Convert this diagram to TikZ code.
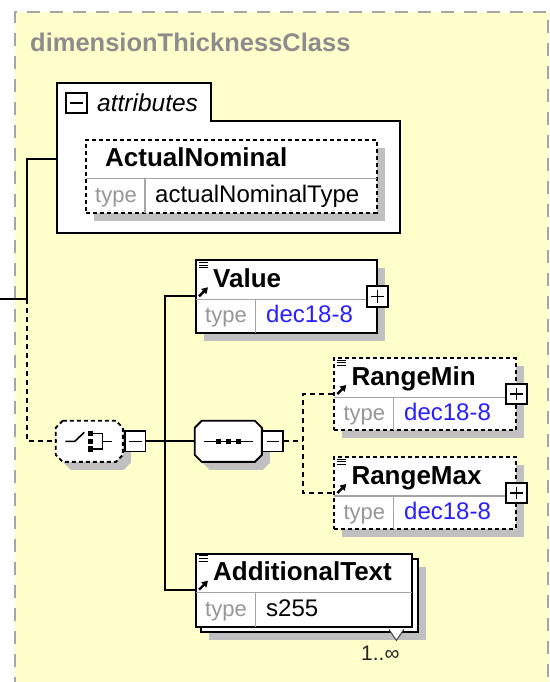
\documentclass[tikz,border=0pt]{standalone}
\usepackage{fontspec}
\setmainfont{Liberation Sans}
\usetikzlibrary{calc,shadows,arrows.meta}
\definecolor{bgyellow}{RGB}{255,255,204}
\definecolor{bordergray}{RGB}{165,165,165}
\definecolor{titlegray}{RGB}{140,140,140}
\definecolor{shadowgray}{RGB}{192,192,192}
\definecolor{divgray}{RGB}{165,165,165}
\definecolor{typegray}{RGB}{150,150,150}
\definecolor{valblue}{RGB}{40,30,255}
% octagon outline around a named rectangle node, shifted by #2 (down-right)
\newcommand\octpath[2]{($(#1.north west)+(7+#2,#2)$) -- ($(#1.north east)+(-7+#2,#2)$) -- ($(#1.north east)+(#2,7+#2)$) -- ($(#1.south east)+(#2,-7+#2)$) -- ($(#1.south east)+(-7+#2,#2)$) -- ($(#1.south west)+(7+#2,#2)$) -- ($(#1.south west)+(#2,-7+#2)$) -- ($(#1.north west)+(#2,7+#2)$) -- cycle}
\begin{document}
\begin{tikzpicture}[x=1pt,y=-1pt,
  clsborder/.style={draw=bordergray, line width=2pt, dash pattern=on 13pt off 10pt},
  grpline/.style={draw=black, line width=2pt, fill=white},
  elbox/.style={rectangle, draw=black, fill=white, line width=1.9pt, inner sep=0pt, anchor=north west},
  optbox/.style={elbox, dash pattern=on 4pt off 3pt},
  shade/.style={drop shadow={shadow xshift=8pt, shadow yshift=-8pt, fill=shadowgray, opacity=1}},
  divline/.style={draw=divgray, line width=1.3pt},
  iconline/.style={draw=black, line width=1pt},
  iconarrow/.style={draw=black, line width=2.4pt, -{Triangle[length=6pt,width=7pt]}},
  nametext/.style={font=\fontsize{26}{30}\selectfont\bfseries, anchor=base west, inner sep=0pt},
  typetext/.style={font=\fontsize{22}{26}\selectfont, text=typegray, anchor=base west, inner sep=0pt},
  valtext/.style={font=\fontsize{24}{28}\selectfont, anchor=base west, inner sep=0pt},
  titletext/.style={font=\fontsize{25.5}{30}\selectfont\bfseries, text=titlegray, anchor=base west, inner sep=0pt},
  conn/.style={draw=black, line width=2pt},
  optconn/.style={conn, dash pattern=on 5pt off 4pt},
  pmbox/.style={rectangle, draw=black, fill=white, line width=1.8pt, minimum size=20.5pt, inner sep=0pt},
  minusbox/.style={pmbox, path picture={\draw[line width=1.5pt] ([xshift=4pt]path picture bounding box.west) -- ([xshift=-4pt]path picture bounding box.east);}},
  plusbox/.style={pmbox, path picture={\draw[line width=1.5pt] ([xshift=4pt]path picture bounding box.west) -- ([xshift=-4pt]path picture bounding box.east); \draw[line width=1.5pt] ([yshift=-4pt]path picture bounding box.north) -- ([yshift=4pt]path picture bounding box.south);}},
  octframe/.style={rectangle, inner sep=0pt, minimum width=66.7pt, minimum height=40.7pt},
  octline/.style={draw=black, fill=white, line width=1.9pt},
  sqdot/.style={fill=black, draw=none}
]
\useasboundingbox (0,0) rectangle (549,682);
\fill[white] (0,0) rectangle (549,682);
% class frame
\fill[bgyellow] (15,12) rectangle (549,682);
\draw[clsborder] (15,690) -- (15,12) -- (548,12) -- (548,690);
\node[titletext] (title) at (30,52) {dimensionThicknessClass};

% attributes group
\node[rectangle, inner sep=0pt, minimum width=343.3pt, minimum height=149.7pt, anchor=north west] (attrgrp) at (56.7,83.3) {};
\filldraw[grpline] (attrgrp.south west) -- (attrgrp.north west) -- ++(154,0) -- ++(0,37.4) -| (attrgrp.south east) -- cycle;
\node[minusbox] (attrMinus) at (76.5,103) {};
\node[font=\fontsize{24.5}{28}\selectfont\itshape, anchor=base west, inner sep=0pt] (attrLabel) at (97,111) {attributes};

% ActualNominal
\node[optbox, shade, minimum width=290.7pt, minimum height=72.4pt] (actual) at (85,139.3) {};
\draw[divline] ($(actual.north west)+(1,39)$) -- ($(actual.north east)+(-1,39)$);
\draw[divline] ($(actual.north west)+(60,39)$) -- ($(actual.south west)+(60,-1)$);
\node[nametext] (actualName) at ($(actual.north west)+(20,27.5)$) {ActualNominal};
\node[typetext] (actualTypeLbl) at ($(actual.north west)+(10,63.5)$) {type};
\node[valtext] (actualType) at ($(actual.north west)+(70,63.5)$) {actualNominalType};

% Value
\node[elbox, shade, minimum width=180.7pt, minimum height=72.4pt] (value) at (195,259.3) {};
\draw[divline] ($(value.north west)+(1,40)$) -- ($(value.north east)+(-1,40)$);
\draw[divline] ($(value.north west)+(60.7,40)$) -- ($(value.south west)+(60.7,-1)$);
\draw[iconline] ($(value.north west)+(4,3)$) -- ++(9,0) ($(value.north west)+(4,5.8)$) -- ++(9,0) ($(value.north west)+(4,8.6)$) -- ++(9,0);
\draw[iconarrow] ($(value.north west)+(4,37)$) -- ++(9,-9);
\node[nametext] (valueName) at ($(value.north west)+(18,28)$) {Value};
\node[typetext] (valueTypeLbl) at ($(value.north west)+(10,63.5)$) {type};
\node[valtext, text=valblue] (valueType) at ($(value.north west)+(71,63.5)$) {dec18-8};
\node[plusbox] (valuePlus) at (value.east) {};

% RangeMin
\node[optbox, shade, minimum width=181.4pt, minimum height=72.3pt] (rmin) at (333.3,357) {};
\draw[divline] ($(rmin.north west)+(1,40.7)$) -- ($(rmin.north east)+(-1,40.7)$);
\draw[divline] ($(rmin.north west)+(60,40.7)$) -- ($(rmin.south west)+(60,-1)$);
\draw[iconline] ($(rmin.north west)+(4,3)$) -- ++(9,0) ($(rmin.north west)+(4,5.8)$) -- ++(9,0) ($(rmin.north west)+(4,8.6)$) -- ++(9,0);
\draw[iconarrow] ($(rmin.north west)+(4,37)$) -- ++(9,-9);
\node[nametext] (rminName) at ($(rmin.north west)+(18,28)$) {RangeMin};
\node[typetext] (rminTypeLbl) at ($(rmin.north west)+(10,63.5)$) {type};
\node[valtext, text=valblue] (rminType) at ($(rmin.north west)+(70.7,63.5)$) {dec18-8};
\node[plusbox] (rminPlus) at (rmin.east) {};

% RangeMax
\node[optbox, shade, minimum width=181.4pt, minimum height=72pt] (rmax) at (333.3,456) {};
\draw[divline] ($(rmax.north west)+(1,40)$) -- ($(rmax.north east)+(-1,40)$);
\draw[divline] ($(rmax.north west)+(60,40)$) -- ($(rmax.south west)+(60,-1)$);
\draw[iconline] ($(rmax.north west)+(4,3)$) -- ++(9,0) ($(rmax.north west)+(4,5.8)$) -- ++(9,0) ($(rmax.north west)+(4,8.6)$) -- ++(9,0);
\draw[iconarrow] ($(rmax.north west)+(4,37)$) -- ++(9,-9);
\node[nametext] (rmaxName) at ($(rmax.north west)+(18,28)$) {RangeMax};
\node[typetext] (rmaxTypeLbl) at ($(rmax.north west)+(10,63.5)$) {type};
\node[valtext, text=valblue] (rmaxType) at ($(rmax.north west)+(70.7,63.5)$) {dec18-8};
\node[plusbox] (rmaxPlus) at (rmax.east) {};

% AdditionalText (repeated)
\node[elbox, shade, minimum width=217.3pt, minimum height=73.3pt] (addlBack) at (200,557.7) {};
\node[elbox, minimum width=216.3pt, minimum height=73.3pt] (addl) at (195,552.7) {};
\draw[divline] ($(addl.north west)+(1,40)$) -- ($(addl.north east)+(-1,40)$);
\draw[divline] ($(addl.north west)+(60.7,40)$) -- ($(addl.south west)+(60.7,-1)$);
\draw[iconline] ($(addl.north west)+(4,3)$) -- ++(9,0) ($(addl.north west)+(4,5.8)$) -- ++(9,0) ($(addl.north west)+(4,8.6)$) -- ++(9,0);
\draw[iconarrow] ($(addl.north west)+(4,37)$) -- ++(9,-9);
\node[nametext] (addlName) at ($(addl.north west)+(18,28)$) {AdditionalText};
\node[typetext] (addlTypeLbl) at ($(addl.north west)+(10,63.5)$) {type};
\node[valtext] (addlType) at ($(addl.north west)+(71,63.5)$) {s255};
\draw[draw=black!75, fill=white, line width=1pt] ($(addl.south east)+(-24.3,1.5)$) -- ($(addl.south east)+(-16.8,12.5)$) -- ($(addl.south east)+(-9.3,1.5)$);
\node[font=\fontsize{21}{24}\selectfont, text=black!85, anchor=base west, inner sep=0pt] (addlOcc) at (361,660) {1..∞};

% choice compositor
\node[octframe] (choice) at (89.3,441.3) {};
\fill[shadowgray] \octpath{choice}{8};
\filldraw[octline, dash pattern=on 4pt off 3pt] \octpath{choice}{0};
\draw[line width=1.6pt] ($(choice.center)+(-24,0)$) -- ($(choice.center)+(-14.5,0)$) -- ($(choice.center)+(-5,-9)$);
\fill[sqdot] ($(choice.center)+(-1.5,-10.5)$) rectangle ++(5.5,5.5);
\fill[sqdot] ($(choice.center)+(-1.5,-2.75)$) rectangle ++(5.5,5.5);
\fill[sqdot] ($(choice.center)+(-1.5,5)$) rectangle ++(5.5,5.5);
\draw[line width=1.5pt] ($(choice.center)+(4,-7.75)$) -- ($(choice.center)+(13,-7.75)$) -- ($(choice.center)+(13,7.75)$) -- ($(choice.center)+(4,7.75)$);
\draw[line width=1.5pt] ($(choice.center)+(13,0)$) -- ($(choice.center)+(23,0)$);
\node[minusbox] (choiceMinus) at (135.3,441.3) {};

% sequence compositor
\node[octframe] (seq) at (228.3,441.3) {};
\fill[shadowgray] \octpath{seq}{8};
\filldraw[octline] \octpath{seq}{0};
\draw[line width=1.6pt] ($(seq.center)+(-24,0)$) -- ($(seq.center)+(25,0)$);
\fill[sqdot] ($(seq.center)+(-12.75,-2.75)$) rectangle ++(5.5,5.5);
\fill[sqdot] ($(seq.center)+(-2.75,-2.75)$) rectangle ++(5.5,5.5);
\fill[sqdot] ($(seq.center)+(7.25,-2.75)$) rectangle ++(5.5,5.5);
\node[minusbox] (seqMinus) at (272.8,441.3) {};

% connectors
\coordinate (lin) at (0,299.3);
\coordinate (lbus) at (26.7,299.3);
\coordinate (attrIn) at (56.7,159.3);
\coordinate (vbus) at (164.5,441.3);
\coordinate (dbus) at (303,441.3);
\draw[conn] (lin) -- (lbus) |- (attrIn);
\draw[optconn] (lbus) |- (choice.west);
\draw[conn] (choiceMinus.east) -- (seq.west);
\draw[conn] (value.west) -| (vbus) |- (addl.west);
\draw[optconn] (seqMinus.east) -- (dbus);
\draw[optconn] (rmin.west) -| (dbus) |- (rmax.west);
\end{tikzpicture}
\end{document}
